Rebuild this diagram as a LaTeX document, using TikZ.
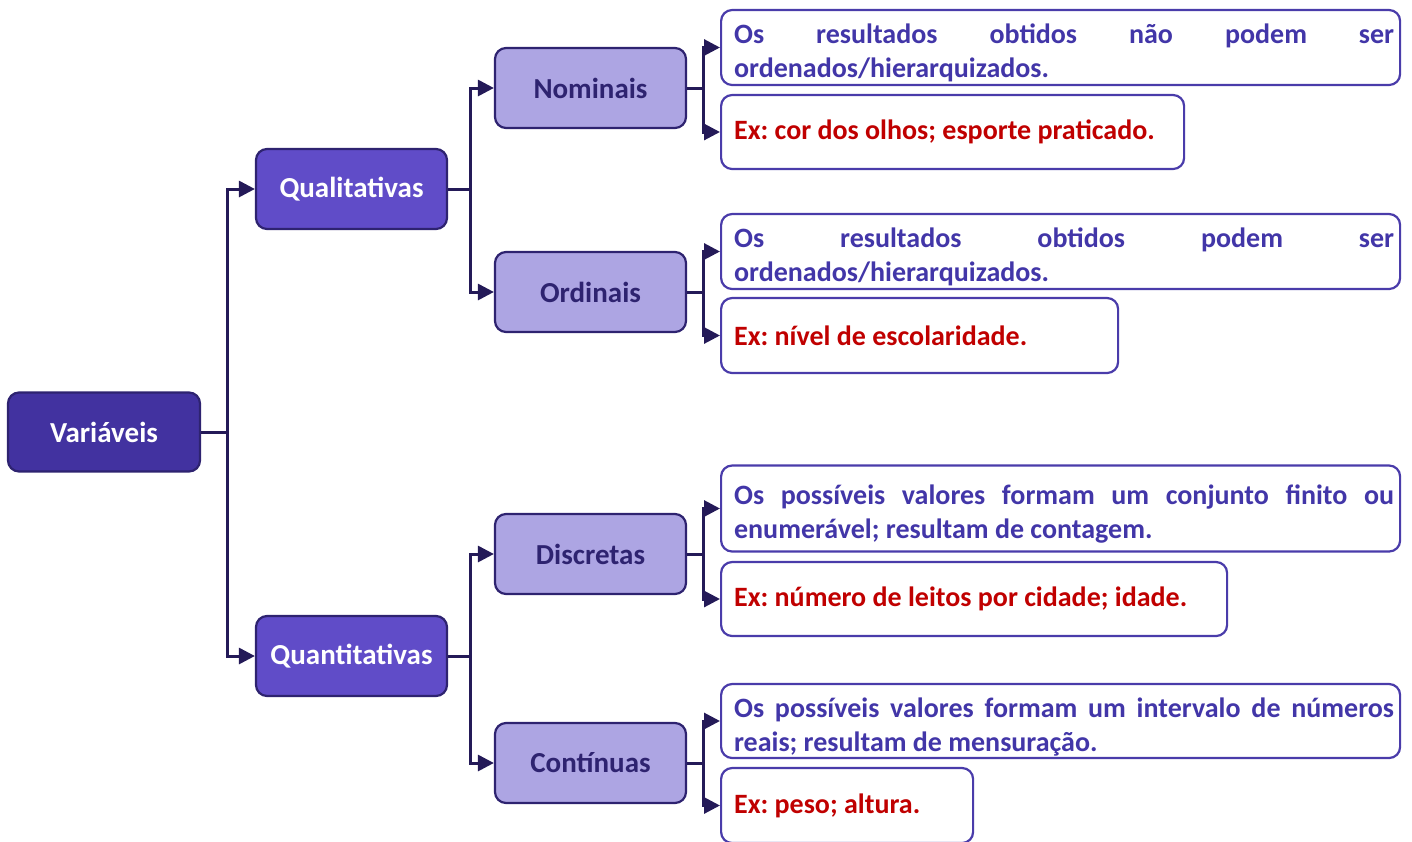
\documentclass[tikz,border=0pt]{standalone}
\usepackage{fontspec}
\setmainfont{Carlito}
\usetikzlibrary{arrows.meta}
\definecolor{darkvar}{HTML}{4232A0}
\definecolor{midvar}{HTML}{604CC8}
\definecolor{lightvar}{HTML}{ADA5E3}
\definecolor{edgecol}{HTML}{2E2370}
\definecolor{linecol}{HTML}{241A58}
\definecolor{boxcol}{HTML}{4A3CAA}
\definecolor{txtcol}{HTML}{4236A8}
\definecolor{excol}{HTML}{C00000}
\newcommand{\fixsp}{\spaceskip=0pt\xspaceskip=0pt\frenchspacing\hyphenpenalty=10000\relax}
\tikzset{
  x=1pt, y=-1pt,
  every node/.style={font=\fontsize{28}{34}\selectfont\bfseries},
  topbox/.style={draw=edgecol, line width=2.2pt, fill=darkvar, text=white, rounded corners=11pt, minimum width=192pt, minimum height=79pt, inner sep=0pt, font=\fontsize{29}{34}\selectfont\bfseries},
  secbox/.style={draw=edgecol, line width=2.2pt, fill=midvar, text=white, rounded corners=11pt, minimum width=191pt, minimum height=80pt, inner sep=0pt, font=\fontsize{29}{34}\selectfont\bfseries},
  thirdbox/.style={draw=edgecol, line width=2.2pt, fill=lightvar, text=edgecol, rounded corners=11pt, minimum width=191pt, minimum height=80pt, inner sep=0pt, font=\fontsize{29}{34}\selectfont\bfseries},
  descbox/.style={draw=boxcol, line width=2.2pt, text=txtcol, rounded corners=11pt, anchor=west, align=left, inner xsep=13pt, inner ysep=0pt, text width=653pt, minimum width=679pt},
  exbox/.style={draw=boxcol, line width=2.2pt, text=excol, rounded corners=11pt, anchor=west, align=left, inner xsep=13pt, inner ysep=0pt},
  conn/.style={draw=linecol, line width=3pt},
  arr/.style={conn, -{Triangle[length=16pt,width=16pt]}},
}
\newcommand{\jline}[1]{\makebox[653pt][l]{\fixsp\makebox[660pt][s]{#1}}}
\begin{document}
\begin{tikzpicture}
\useasboundingbox (0,0) rectangle (1412,841);
% level nodes
\node[topbox] (var) at (104,432) {Variáveis};
\node[secbox] (qual) at (351.5,189) {Qualitativas};
\node[secbox] (quant) at (351.5,656) {Quantitativas};
\node[thirdbox] (nom) at (590.5,88) {Nominais};
\node[thirdbox] (ord) at (590.5,292) {Ordinais};
\node[thirdbox] (dis) at (590.5,554) {Discretas};
\node[thirdbox] (con) at (590.5,763) {Contínuas};
% description boxes
\node[descbox, minimum height=75pt] (t1) at (720,47.5) {\fixsp\rule{0pt}{31pt}\jline{Os resultados obtidos não podem ser}\\ordenados/hierarquizados.};
\node[exbox, text width=437pt, minimum height=74pt] (e1) at (720,132) {\fixsp Ex: cor dos olhos; esporte praticado.};
\node[descbox, minimum height=75pt] (t2) at (720,251.5) {\fixsp\rule{0pt}{31pt}\jline{Os resultados obtidos podem ser}\\ordenados/hierarquizados.};
\node[exbox, text width=371pt, minimum height=75pt] (e2) at (720,335.5) {\fixsp Ex: nível de escolaridade.};
\node[descbox, minimum height=86pt] (t3) at (720,508.5) {\fixsp\rule{0pt}{31pt}\jline{Os possíveis valores formam um conjunto finito ou}\\enumerável; resultam de contagem.};
\node[exbox, text width=480pt, minimum height=74pt] (e3) at (720,599) {\fixsp Ex: número de leitos por cidade; idade.};
\node[descbox, minimum height=74pt] (t4) at (720,721) {\fixsp\rule{0pt}{31pt}\jline{Os possíveis valores formam um intervalo de números}\\reais; resultam de mensuração.};
\node[exbox, text width=226pt, minimum height=75pt] (e4) at (720,805.5) {\fixsp Ex: peso; altura.};
% branch points
\coordinate (b0) at (227,432);
\coordinate (b1) at (470,189);
\coordinate (b2) at (470,656);
\coordinate (c1) at (703,88);
\coordinate (c2) at (703,292);
\coordinate (c3) at (703,554);
\coordinate (c4) at (703,763);
% connectors
\draw[conn] (var.east) -- (b0);
\draw[arr] (b0) |- (qual.west);
\draw[arr] (b0) |- (quant.west);
\draw[conn] (qual.east) -- (b1);
\draw[arr] (b1) |- (nom.west);
\draw[arr] (b1) |- (ord.west);
\draw[conn] (quant.east) -- (b2);
\draw[arr] (b2) |- (dis.west);
\draw[arr] (b2) |- (con.west);
\draw[conn] (nom.east) -- (c1);
\draw[arr] (c1) |- (t1.west);
\draw[arr] (c1) |- (e1.west);
\draw[conn] (ord.east) -- (c2);
\draw[arr] (c2) |- (t2.west);
\draw[arr] (c2) |- (e2.west);
\draw[conn] (dis.east) -- (c3);
\draw[arr] (c3) |- (t3.west);
\draw[arr] (c3) |- (e3.west);
\draw[conn] (con.east) -- (c4);
\draw[arr] (c4) |- (t4.west);
\draw[arr] (c4) |- (e4.west);
\end{tikzpicture}
\end{document}
